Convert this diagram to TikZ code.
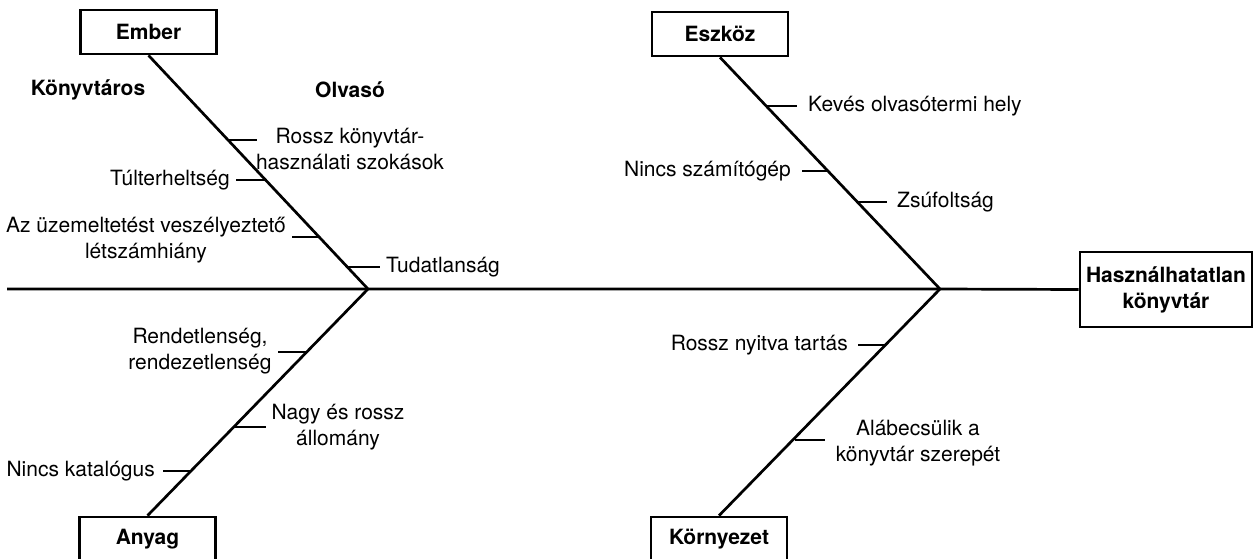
\documentclass[tikz,border=0pt]{standalone}
\usepackage{fontspec}
\setmainfont{TeX Gyre Heros}
\begin{document}
\begin{tikzpicture}[x=1pt,y=-1pt,
  bone/.style={line width=2.7pt},
  tick/.style={line width=2.5pt},
  catbox/.style={draw,line width=2.7pt,minimum width=136pt,minimum height=44pt,inner sep=0pt,font=\bfseries},
  cause/.style={inner sep=0pt,align=center},
  head/.style={font=\bfseries,inner sep=0pt}]
\useasboundingbox (0,0) rectangle (1259,559);
\fontsize{21}{26}\selectfont
% category boxes
\node[catbox] (ember) at (148.5,32) {Ember};
\node[catbox] (eszkoz) at (720,34) {Eszköz};
\node[catbox] (anyag) at (147.5,539) {Anyag};
\node[catbox] (kornyezet) at (719,539) {Környezet};
\node[draw,line width=2.7pt,minimum width=172pt,minimum height=75pt,inner sep=0pt,align=center,font=\bfseries] (effect) at (1166,289.5) {Használhatatlan\\könyvtár};
% junctions
\coordinate (j1) at (368,289);
\coordinate (j2) at (940,289);
\coordinate (start) at (7,289);
% main line
\draw[bone] (start) -- (j1) -- (j2) -- (effect.west);
% spines
\draw[bone] (ember.south) -- (j1);
\draw[bone] (j1) -- (anyag.north);
\draw[bone] (eszkoz.south) -- (j2);
\draw[bone] (j2) -- (kornyezet.north);
% sub headings
\node[head] (konyvtaros) at (88,90) {Könyvtáros};
\node[head] (olvaso) at (350,90) {Olvasó};
% Ember causes
\coordinate (e1) at (229,140);
\coordinate (e2) at (266,180);
\coordinate (e3) at (320,237);
\coordinate (e4) at (348,267);
\node[cause] (rossz) at (350,149) {Rossz könyvtár-\\használati szokások};
\draw[tick] (e1) -- (257,140) coordinate (e1t);
\node[cause,anchor=east] (tulter) at (230,180) {Túlterheltség};
\draw[tick] (e2) -- (236,180) coordinate (e2t);
\node[cause] (uzem) at (146,240) {Az üzemeltetést veszélyeztető\\létszámhiány};
\draw[tick] (e3) -- (292,237) coordinate (e3t);
\node[cause,anchor=west] (tudat) at (386,267) {Tudatlanság};
\draw[tick] (e4) -- (380,267) coordinate (e4t);
% Anyag causes
\coordinate (a1) at (306.5,352);
\coordinate (a2) at (234.5,427);
\coordinate (a3) at (192,471);
\node[cause] (rend) at (200,351) {Rendetlenség,\\rendezetlenség};
\draw[tick] (a1) -- (278,352) coordinate (a1t);
\node[cause] (nagy) at (338,427) {Nagy és rossz\\állomány};
\draw[tick] (a2) -- (266,427) coordinate (a2t);
\node[cause,anchor=east] (kat) at (155,471) {Nincs katalógus};
\draw[tick] (a3) -- (163,471) coordinate (a3t);
% Eszköz causes
\coordinate (s1) at (767.4,106);
\coordinate (s2) at (829,171);
\coordinate (s3) at (858.4,202);
\node[cause,anchor=west] (keves) at (808,106) {Kevés olvasótermi hely};
\draw[tick] (s1) -- (797,106) coordinate (s1t);
\node[cause,anchor=east] (szamit) at (791,171) {Nincs számítógép};
\draw[tick] (s2) -- (802,171) coordinate (s2t);
\node[cause,anchor=west] (zsuf) at (897,202) {Zsúfoltság};
\draw[tick] (s3) -- (887,202) coordinate (s3t);
% Környezet causes
\coordinate (k1) at (885.7,345);
\coordinate (k2) at (795.3,440);
\node[cause,anchor=east] (nyitva) at (848,345) {Rossz nyitva tartás};
\draw[tick] (k1) -- (858,345) coordinate (k1t);
\node[cause] (alab) at (918,443) {Alábecsülik a\\könyvtár szerepét};
\draw[tick] (k2) -- (825,440) coordinate (k2t);
\end{tikzpicture}
\end{document}
